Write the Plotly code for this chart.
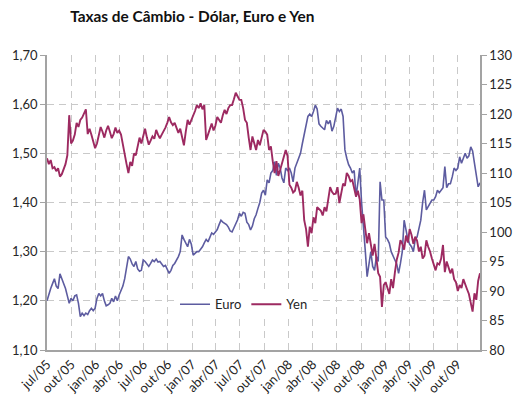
import pandas as pd
import plotly.graph_objects as go

# Weekly closing values (Fridays), Jul/2005 - Dec/2009
# US$ per Euro (left axis)
euro = [
    # 2005
    1.200, 1.215, 1.225, 1.235, 1.245,          # jul
    1.230, 1.225, 1.255, 1.245,                 # ago
    1.233, 1.225, 1.210, 1.195, 1.205,          # set
    1.200, 1.210, 1.212, 1.195,                 # out
    1.168, 1.175, 1.170, 1.175,                 # nov
    1.172, 1.180, 1.185, 1.180, 1.185,          # dez
    # 2006
    1.205, 1.215, 1.210, 1.215,                 # jan
    1.200, 1.190, 1.192, 1.195,                 # fev
    1.205, 1.198, 1.210, 1.200, 1.212,          # mar
    1.222, 1.230, 1.245, 1.265,                 # abr
    1.290, 1.285, 1.275, 1.270,                 # mai
    1.280, 1.265, 1.260, 1.262, 1.283,          # jun
    1.280, 1.275, 1.270, 1.276,                 # jul
    1.283, 1.280, 1.285, 1.279,                 # ago
    1.280, 1.275, 1.270, 1.272, 1.265,          # set
    1.256, 1.262, 1.272, 1.276,                 # out
    1.282, 1.290, 1.300, 1.334,                 # nov
    1.325, 1.318, 1.310, 1.325, 1.315,          # dez
    # 2007
    1.293, 1.296, 1.300, 1.300,                 # jan
    1.305, 1.310, 1.318, 1.325,                 # fev
    1.320, 1.330, 1.338, 1.335, 1.340,          # mar
    1.345, 1.355, 1.364, 1.360,                 # abr
    1.358, 1.355, 1.350, 1.342,                 # mai
    1.340, 1.348, 1.357, 1.365, 1.378,          # jun
    1.372, 1.380, 1.378, 1.360,                 # jul
    1.355, 1.344, 1.352, 1.367, 1.375,          # ago
    1.388, 1.400, 1.419, 1.425,                 # set
    1.415, 1.446, 1.440, 1.460,                 # out
    1.465, 1.483, 1.455, 1.480, 1.470,          # nov
    1.450, 1.440, 1.470, 1.465,                 # dez
    # 2008
    1.470, 1.460, 1.442, 1.470,                 # jan
    1.480, 1.490, 1.500, 1.520, 1.541,          # fev
    1.560, 1.575, 1.580, 1.575,                 # mar
    1.585, 1.598, 1.590, 1.560,                 # abr
    1.555, 1.552, 1.548, 1.567, 1.560,          # mai
    1.567, 1.545, 1.555, 1.575,                 # jun
    1.592, 1.585, 1.590, 1.575,                 # jul
    1.507, 1.490, 1.477, 1.470, 1.460,          # ago
    1.465, 1.412, 1.440, 1.470,                 # set
    1.400, 1.358, 1.302, 1.249, 1.276,          # out
    1.300, 1.270, 1.262, 1.290,                 # nov
    1.280, 1.442, 1.405, 1.405,                 # dez
    # 2009
    1.330, 1.325, 1.317, 1.300, 1.290,          # jan
    1.283, 1.275, 1.256, 1.276,                 # fev
    1.300, 1.364, 1.345, 1.325,                 # mar
    1.315, 1.310, 1.300, 1.325,                 # abr
    1.330, 1.345, 1.364, 1.400, 1.425,          # mai
    1.385, 1.392, 1.398, 1.405,                 # jun
    1.405, 1.412, 1.425, 1.420, 1.425,          # jul
    1.430, 1.473, 1.430, 1.438,                 # ago
    1.438, 1.452, 1.470, 1.465,                 # set
    1.470, 1.493, 1.480, 1.490, 1.500,          # out
    1.490, 1.495, 1.513, 1.505,                 # nov
    1.480, 1.452, 1.432, 1.440,                 # dez
]

# Yen per US$ (right axis)
yen = [
    # 2005
    112.5, 111.5, 112.2, 110.8, 111.0,          # jul
    110.3, 110.8, 109.4, 109.8,                 # ago
    110.5, 111.5, 113.0, 119.8, 115.0,          # set
    115.5, 116.5, 118.5, 117.8,                 # out
    119.0, 119.4, 120.2, 120.8,                 # nov
    116.6, 117.5, 116.5, 115.5, 114.2,          # dez
    # 2006
    115.0, 116.5, 117.8, 117.0,                 # jan
    116.0, 117.2, 118.0, 117.0,                 # fev
    115.9, 116.6, 117.7, 116.8, 117.2,          # mar
    116.5, 114.6, 113.2, 111.5,                 # abr
    110.0, 111.9, 111.2, 113.3,                 # mai
    113.0, 114.8, 116.0, 115.0, 116.3,          # jun
    117.5, 116.0, 114.8, 115.5,                 # jul
    116.2, 115.8, 117.3, 116.5,                 # ago
    115.9, 116.5, 117.0, 117.7, 118.5,          # set
    119.5, 118.6, 118.1, 118.5,                 # out
    117.8, 116.8, 117.5, 115.8,                 # nov
    114.7, 117.0, 119.0, 118.2, 119.0,          # dez
    # 2007
    119.5, 120.5, 121.5, 121.0,                 # jan
    121.8, 120.8, 121.5, 115.6,                 # fev
    116.5, 117.5, 118.4, 117.2, 118.0,          # mar
    119.5, 119.0, 118.5, 119.8,                 # abr
    120.7, 120.0, 121.0, 121.5,                 # mai
    121.5, 122.5, 123.6, 123.0, 122.4,          # jun
    122.4, 121.0, 119.0, 118.5,                 # jul
    116.0, 113.9, 116.2, 115.0, 113.9,          # ago
    115.6, 114.7, 116.0, 117.3,                 # set
    117.0, 116.5, 113.9, 114.5,                 # out
    112.0, 110.0, 112.0, 109.5, 110.5,          # nov
    111.5, 112.5, 113.9, 112.9,                 # dez
    # 2008
    108.0, 107.5, 106.7, 107.0,                 # jan
    108.5, 107.5, 106.2, 107.0, 102.0,          # fev
    100.5, 97.5, 100.9, 99.8,                   # mar
    102.5, 101.5, 104.2, 103.8,                 # abr
    103.6, 102.8, 104.2, 103.5, 105.5,          # mai
    107.6, 106.8, 106.4, 106.5,                 # jun
    107.6, 104.9, 106.5, 108.2,                 # jul
    107.8, 110.0, 109.5, 108.6, 108.8,          # ago
    107.6, 106.0, 107.0, 105.5,                 # set
    101.5, 103.0, 100.5, 98.1, 99.8,            # out
    97.5, 96.0, 98.0, 95.5,                     # nov
    93.0, 92.4, 87.3, 91.0,                     # dez
    # 2009
    91.5, 90.5, 89.5, 92.0, 90.5,               # jan
    93.1, 95.3, 96.5, 98.6,                     # fev
    98.0, 97.0, 99.4, 98.2,                     # mar
    100.5, 99.5, 98.0, 99.2,                    # abr
    98.5, 96.7, 97.5, 95.5, 96.0,               # mai
    98.6, 97.5, 96.7, 95.5,                     # jun
    94.4, 93.5, 94.7, 94.5, 95.5,               # jul
    97.8, 93.2, 95.0, 94.0,                     # ago
    93.0, 93.8, 92.0, 91.5,                     # set
    90.0, 91.0, 90.5, 92.0, 91.0,               # out
    90.3, 89.5, 87.9, 86.5,                     # nov
    89.6, 88.5, 91.7, 93.0,                     # dez
]

quarter_labels = [
    "jul/05", "out/05", "jan/06", "abr/06", "jul/06", "out/06",
    "jan/07", "abr/07", "jul/07", "out/07", "jan/08", "abr/08",
    "jul/08", "out/08", "jan/09", "abr/09", "jul/09", "out/09",
]

dates = pd.date_range("2005-07-01", periods=len(euro), freq="7D")
quarter_dates = pd.date_range("2005-07-01", periods=len(quarter_labels), freq="QS")

EURO_COLOR = "#5d5ca0"
YEN_COLOR = "#9d2a61"
GRID = "#c9c9c9"
AXIS = "#a3a3a3"
FONT = "Lato"

fig = go.Figure()
fig.add_trace(go.Scatter(
    x=dates, y=euro, name="Euro", mode="lines",
    line=dict(color=EURO_COLOR, width=1.6), yaxis="y",
))
fig.add_trace(go.Scatter(
    x=dates, y=yen, name="Yen", mode="lines",
    line=dict(color=YEN_COLOR, width=1.9), yaxis="y2",
))

fig.update_layout(
    width=524, height=408,
    margin=dict(l=47, r=31, t=55, b=58),
    paper_bgcolor="white", plot_bgcolor="white",
    separators=",.",
    font=dict(family=FONT, size=13, color="#262626"),
    title=dict(
        text="<b>Taxas de Câmbio - Dólar, Euro e Yen</b>",
        x=28 / 524, xanchor="left", xref="paper",
        y=1 - 17 / 408, yanchor="middle", yref="container",
        font=dict(family=FONT, size=15.4, color="#111111"),
    ),
    showlegend=True,
    legend=dict(
        orientation="h", x=0.455, xanchor="center", y=0.155, yanchor="middle",
        bgcolor="white", font=dict(family=FONT, size=13, color="#262626"),
        itemwidth=30,
    ),
    xaxis=dict(
        type="date",
        range=[dates[0], dates[-1]],
        tickmode="array", tickvals=quarter_dates, ticktext=quarter_labels,
        tickangle=-45, tickfont=dict(family=FONT, size=13, color="#262626"),
        showgrid=True, gridcolor=GRID, gridwidth=1, griddash="7px,5px",
        showline=True, linecolor=AXIS, linewidth=1.5,
        ticks="", zeroline=False,
    ),
    yaxis=dict(
        range=[1.10, 1.70], tick0=1.10, dtick=0.10, tickformat=".2f",
        showgrid=True, gridcolor=GRID, gridwidth=1, griddash="7px,5px",
        showline=True, linecolor=AXIS, linewidth=1.5,
        ticks="outside", ticklen=5, tickcolor=AXIS, tickwidth=1,
        tickfont=dict(family=FONT, size=13, color="#262626"),
        zeroline=False,
    ),
    yaxis2=dict(
        overlaying="y", side="right",
        range=[80, 130], tick0=80, dtick=5,
        showgrid=False,
        showline=True, linecolor=AXIS, linewidth=1.5,
        ticks="outside", ticklen=5, tickcolor=AXIS, tickwidth=1,
        tickfont=dict(family=FONT, size=13, color="#262626"),
        zeroline=False,
    ),
)

fig.write_html("out.html")
